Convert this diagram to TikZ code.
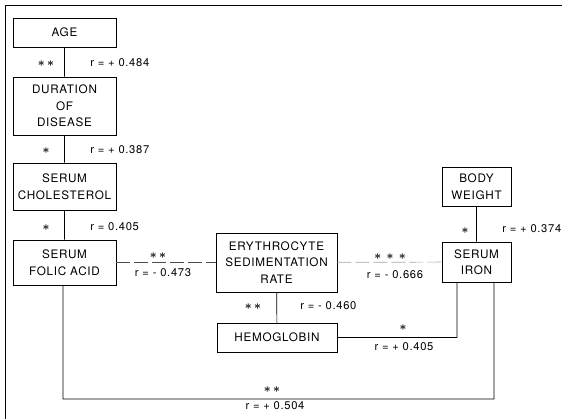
\documentclass[tikz,border=0pt]{standalone}
\usepackage{fontspec}
\setmainfont[LetterSpace=6]{TeX Gyre Heros}
\usepackage{tikz}
\usetikzlibrary{positioning}

\begin{document}
\begin{tikzpicture}[x=1pt, y=-1pt, line width=0.7pt]
\tikzstyle{box} = [draw, align=center, inner sep=0pt, font=\fontsize{11.7}{16.5}\selectfont]
\tikzstyle{lab} = [inner sep=0pt, font=\fontsize{11.2}{12}\selectfont]
\tikzstyle{stars} = [inner sep=0pt, font=\fontsize{13}{14}\selectfont\boldmath]
\tikzstyle{faded} = [dash pattern=on 14pt off 4pt, draw=black!70]
\useasboundingbox (0,0) rectangle (562,419);
\draw (5,419) -- (5,5) -- (562,5);
\node[box, minimum width=103, minimum height=29] (age) at (64.5,32.5) {AGE};
\node[box, minimum width=103, minimum height=58] (dur) at (64.5,106) {DURATION\\OF\\DISEASE};
\node[box, minimum width=103, minimum height=47] (chol) at (64.5,186.5) {SERUM\\CHOLESTEROL};
\node[box, minimum width=103, minimum height=45] (folic) at (64.5,262.5) {SERUM\\FOLIC ACID};
\node[box, minimum width=121, minimum height=59] (esr) at (276.5,262.5) {ERYTHROCYTE\\SEDIMENTATION\\RATE};
\node[box, minimum width=120, minimum height=29] (hb) at (277,337.5) {HEMOGLOBIN};
\node[box, minimum width=69, minimum height=39] (bw) at (476.5,186.5) {BODY\\WEIGHT};
\node[box, minimum width=69, minimum height=40] (iron) at (476.5,262) {SERUM\\IRON};
\coordinate (ironL) at (457,282);
\coordinate (ironR) at (494,282);
\coordinate (floor) at (63,399);
\draw (age) -- (dur)
	(dur) -- (chol)
	(chol) -- (folic)
	(esr) -- (hb)
	(bw) -- (iron)
	(hb.east) -| (ironL)
	(folic.south -| floor) -- (floor) -| (ironR);
\draw[faded] (folic) -- (esr);
\draw[faded, draw=black!35] (esr) -- (iron);
\node[stars] (s1) at (46,64) {$\ast\,\ast$};
\node[lab, anchor=west] (r1) at (90,63) {r = + 0.484};
\node[stars] (s2) at (46,151) {$\ast$};
\node[lab, anchor=west] (r2) at (90,150) {r = + 0.387};
\node[stars] (s3) at (46,228) {$\ast$};
\node[lab, anchor=west] (r3) at (90,227) {r = 0.405};
\node[stars] (s4) at (158,256) {$\ast\,\ast$};
\node[lab] (r4) at (163,273) {r = - 0.473};
\node[stars] (s5) at (390,257) {$\ast\,\ast\,\ast$};
\node[lab] (r5) at (395,275) {r = - 0.666};
\node[stars] (s6) at (253,307) {$\ast\,\ast$};
\node[lab, anchor=west] (r6) at (300,306) {r = - 0.460};
\node[stars] (s7) at (465,231) {$\ast$};
\node[lab, anchor=west] (r7) at (502,229) {r = + 0.374};
\node[stars] (s8) at (403,328) {$\ast$};
\node[lab] (r8) at (404,347) {r = + 0.405};
\node[stars] (s9) at (272,390) {$\ast\,\ast$};
\node[lab] (r9) at (275,406) {r = + 0.504};
\end{tikzpicture}
\end{document}
